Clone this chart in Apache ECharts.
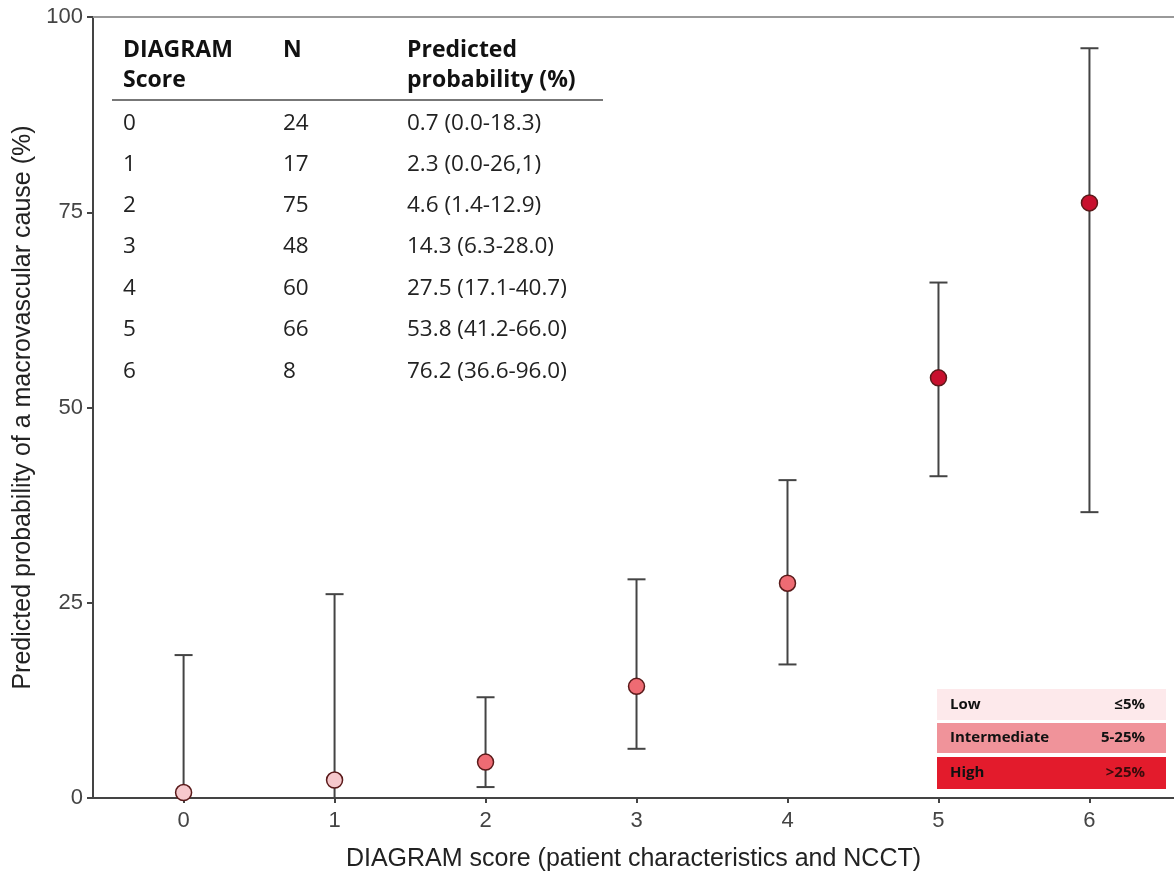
<!DOCTYPE html>
<html>
<head>
<meta charset="utf-8">
<script src="https://cdn.jsdelivr.net/npm/echarts@6/dist/echarts.min.js"></script>
<style>
  html, body { margin: 0; padding: 0; background: #fff; }
  #chart { width: 1174px; height: 878px; }
</style>
</head>
<body>
<div id="chart"></div>
<script>
// data
const scores = [0, 1, 2, 3, 4, 5, 6];
const counts = [24, 17, 75, 48, 60, 66, 8];
const predicted = [0.7, 2.3, 4.6, 14.3, 27.5, 53.8, 76.2];
const lower = [0.0, 0.0, 1.4, 6.3, 17.1, 41.2, 36.6];
const upper = [18.3, 26.1, 12.9, 28.0, 40.7, 66.0, 96.0];
const probText = ["0.7 (0.0-18.3)", "2.3 (0.0-26,1)", "4.6 (1.4-12.9)", "14.3 (6.3-28.0)",
  "27.5 (17.1-40.7)", "53.8 (41.2-66.0)", "76.2 (36.6-96.0)"];
const riskNames = ["Low", "Intermediate", "High"];
const riskRanges = ["≤5%", "5-25%", ">25%"];
const riskColors = ["#fde9eb", "#f0939a", "#e31b2c"];
const markerColors = ["#f6c8cc", "#ee6b73", "#c8102e"];
// colour group of each point as drawn in the figure
const pointColor = [0, 0, 1, 1, 1, 2, 2];

const chart = echarts.init(document.getElementById('chart'));

const tableFont = '"Open Sans", "Noto Sans", sans-serif';
const colX = [123, 283, 407];
const rowY = [124, 165, 206, 247, 289, 330, 372];

const graphics = [];
[["DIAGRAM", "Score"], ["N", ""], ["Predicted", "probability (%)"]].forEach((h, i) => {
  graphics.push({
    type: 'text', x: colX[i], y: 50,
    style: { text: h[0], font: 'bold 23px ' + tableFont, fill: '#111', verticalAlign: 'middle' }
  });
  graphics.push({
    type: 'text', x: colX[i], y: 80,
    style: { text: h[1], font: 'bold 23px ' + tableFont, fill: '#111', verticalAlign: 'middle' }
  });
});
graphics.push({
  type: 'line', shape: { x1: 112, y1: 100, x2: 603, y2: 100 },
  style: { stroke: '#777', lineWidth: 2 }
});
scores.forEach((s, i) => {
  [String(s), String(counts[i]), probText[i]].forEach((t, j) => {
    graphics.push({
      type: 'text', x: colX[j], y: rowY[i],
      style: { text: t, font: '22.5px ' + tableFont, fill: '#222', verticalAlign: 'middle' }
    });
  });
});

const legendTops = [689, 723, 757];
const legendHeights = [31, 30, 32];
riskNames.forEach((n, i) => {
  graphics.push({
    type: 'rect', shape: { x: 937, y: legendTops[i], width: 229, height: legendHeights[i] },
    style: { fill: riskColors[i] }
  });
  graphics.push({
    type: 'text', x: 950, y: legendTops[i] + legendHeights[i] / 2,
    style: { text: n, font: 'bold 15px ' + tableFont, fill: '#111', verticalAlign: 'middle' }
  });
  graphics.push({
    type: 'text', x: 1145, y: legendTops[i] + legendHeights[i] / 2,
    style: { text: riskRanges[i], font: 'bold 15px ' + tableFont, fill: i === 2 ? '#3a0b0b' : '#111',
      verticalAlign: 'middle', align: 'right' }
  });
});

const option = {
  backgroundColor: '#fff',
  animation: false,
  grid: { left: 93, right: 0, top: 17, bottom: 80 },
  xAxis: [{
    type: 'value',
    min: -0.6,
    max: 6.56,
    name: 'DIAGRAM score (patient characteristics and NCCT)',
    nameLocation: 'middle',
    nameGap: 49,
    nameTextStyle: { fontFamily: 'Liberation Sans', fontSize: 25, color: '#222' },
    axisLine: { onZero: false, lineStyle: { color: '#444', width: 2 } },
    axisTick: { show: true, length: 5, customValues: scores, lineStyle: { color: '#444', width: 2 } },
    axisLabel: { customValues: scores, fontFamily: 'Liberation Sans', fontSize: 22, color: '#444', margin: 12 },
    splitLine: { show: false }
  }, {
    type: 'value',
    position: 'top',
    min: -0.6,
    max: 6.56,
    axisLine: { show: true, onZero: false, lineStyle: { color: '#999', width: 2 } },
    axisTick: { show: false },
    axisLabel: { show: false },
    splitLine: { show: false }
  }],
  yAxis: {
    type: 'value',
    min: 0,
    max: 100,
    interval: 25,
    name: 'Predicted probability of a macrovascular cause (%)',
    nameLocation: 'middle',
    nameGap: 57,
    nameTextStyle: { fontFamily: 'Liberation Sans', fontSize: 25, color: '#222' },
    axisLine: { show: true, onZero: false, lineStyle: { color: '#444', width: 2 } },
    axisTick: { show: true, length: 6, lineStyle: { color: '#444', width: 2 } },
    axisLabel: { fontFamily: 'Liberation Sans', fontSize: 22, color: '#444', margin: 10 },
    splitLine: { show: false }
  },
  graphic: graphics,
  series: [{
    type: 'custom',
    name: 'CI',
    data: scores.map((s, i) => [s, lower[i], upper[i]]),
    renderItem: function (params, api) {
      const x = api.value(0);
      const lo = api.coord([x, api.value(1)]);
      const hi = api.coord([x, api.value(2)]);
      const w = 9;
      return {
        type: 'group',
        children: [
          { type: 'line', shape: { x1: hi[0], y1: hi[1], x2: lo[0], y2: lo[1] }, style: { stroke: '#444', lineWidth: 2 } },
          { type: 'line', shape: { x1: hi[0] - w, y1: hi[1], x2: hi[0] + w, y2: hi[1] }, style: { stroke: '#444', lineWidth: 2 } },
          { type: 'line', shape: { x1: lo[0] - w, y1: lo[1], x2: lo[0] + w, y2: lo[1] }, style: { stroke: '#444', lineWidth: 2 } }
        ]
      };
    },
    z: 2
  }, {
    type: 'scatter',
    name: 'Predicted',
    data: scores.map((s, i) => ({
      value: [s, predicted[i]],
      itemStyle: { color: markerColors[pointColor[i]] }
    })),
    symbolSize: 16,
    itemStyle: { borderColor: '#5a1a1a', borderWidth: 1.5, opacity: 1 },
    z: 3
  }]
};

chart.setOption(option);
</script>
</body>
</html>
